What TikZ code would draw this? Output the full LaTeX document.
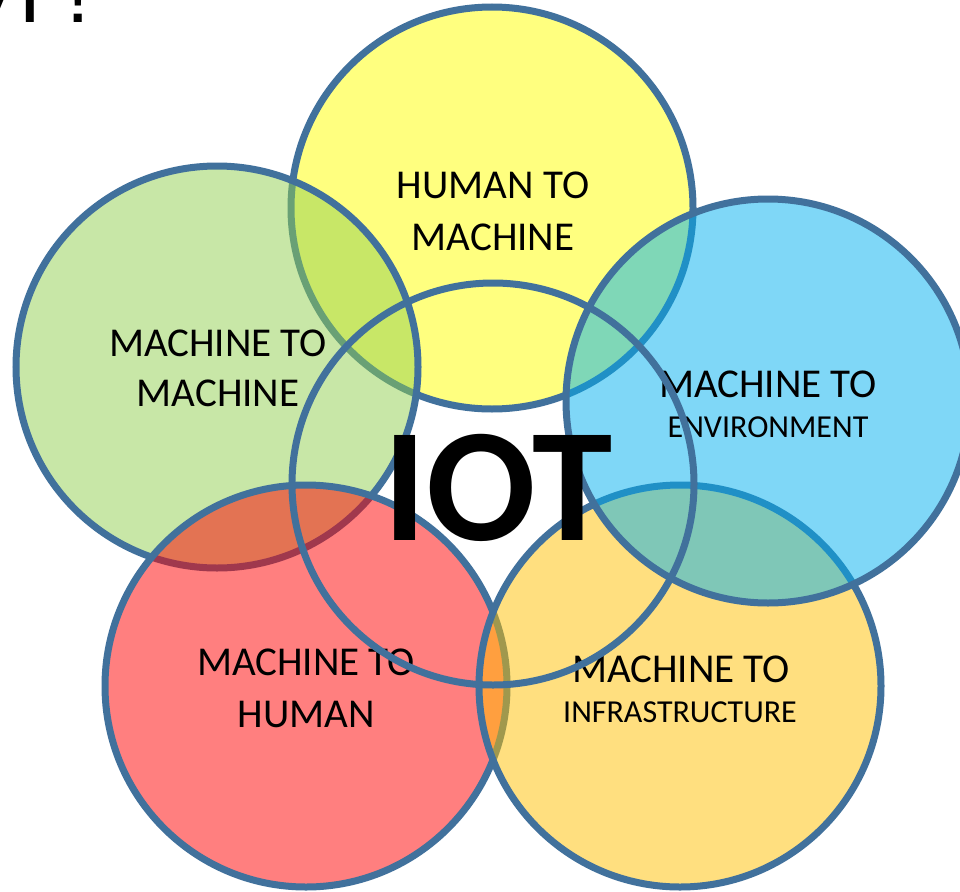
\documentclass[tikz,border=0pt]{standalone}
\usepackage{fontspec}
\setmainfont{Carlito}
\newfontfamily\titlefont{Liberation Sans}
\definecolor{edge}{HTML}{41719C}
\definecolor{cyellow}{HTML}{FFFF00}
\definecolor{cgreen}{HTML}{92D050}
\definecolor{cred}{HTML}{FF0000}
\definecolor{corange}{HTML}{FFC000}
\definecolor{cblue}{HTML}{00B0F0}
\begin{document}
\begin{tikzpicture}[x=1pt,y=-1pt,
  ring/.style={draw=edge,line width=7pt,fill opacity=0.5},
  lbl/.style={anchor=base,inner sep=0pt,font=\fontsize{41}{49}\selectfont},
  lblsmall/.style={anchor=base,inner sep=0pt,font=\fontsize{32}{38}\selectfont}]
\fill[white] (0,0) rectangle (960,891);
\useasboundingbox (0,0) rectangle (960,891);
% partial title at top edge (cut off in the reference)
\node[anchor=base west,inner sep=0pt,font=\titlefont\fontsize{85}{100}\selectfont] (title) at (-38,23) {VI !};
% circles, in stacking order
\draw[ring,fill=cyellow] (492,208) circle[radius=201];
\draw[ring,fill=cgreen] (217,367) circle[radius=201];
\draw[ring,fill=cred] (306,686) circle[radius=201];
\draw[ring,fill=corange] (680,686) circle[radius=201];
\draw[ring,fill=cblue] (768,401) circle[radius=202];
% labels
\node[lbl] (hm1) at (493,198) {HUMAN TO};
\node[lbl] (hm2) at (493,250) {MACHINE};
\node[lbl] (mm1) at (218,356) {MACHINE TO};
\node[lbl] (mm2) at (218,406) {MACHINE};
\node[lbl] (me1) at (768,397) {MACHINE TO};
\node[lblsmall] (me2) at (768,437) {ENVIRONMENT};
\node[lbl] (mh1) at (306,675) {MACHINE TO};
\node[lbl] (mh2) at (306,727) {HUMAN};
\node[lbl] (mi1) at (681,682) {MACHINE TO};
\node[lblsmall] (mi2) at (680,722) {INFRASTRUCTURE};
% centre ring
\draw[draw=edge,line width=7pt] (493,484) circle[radius=201];
\node[anchor=base,inner sep=0pt,font=\bfseries\fontsize{162}{170}\selectfont] (iot) at (498,540) {IOT};
\end{tikzpicture}
\end{document}
